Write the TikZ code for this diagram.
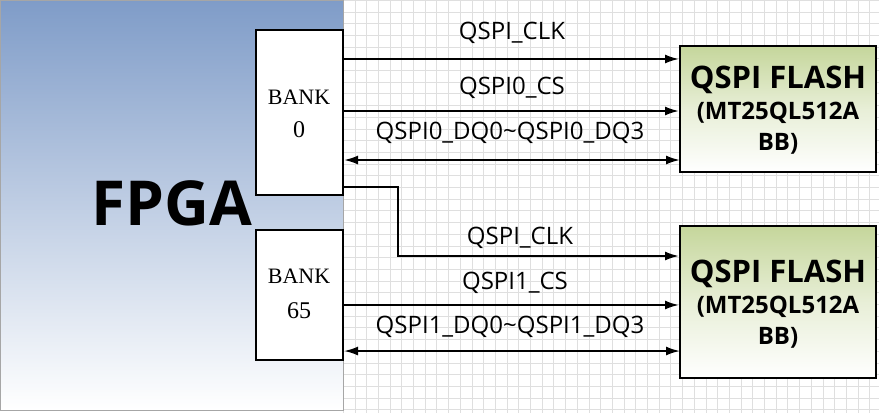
\documentclass[tikz,border=0pt]{standalone}
\usepackage{fontspec}
\setmainfont{Liberation Serif}
\newfontfamily\labelfont{Open Sans}
\newfontfamily\titlefont{Open Sans}[UprightFont=* Bold]
\usetikzlibrary{arrows.meta}
\definecolor{fpgablue}{HTML}{7F9CC8}
\definecolor{flashgreen}{HTML}{C5D69B}
\tikzset{
  bankbox/.style={draw=black, fill=white, line width=1.3pt},
  flashbox/.style={draw=black, line width=1.3pt, top color=flashgreen, bottom color=white, middle color=white!60!flashgreen},
  sig/.style={line width=2pt, -{Latex[length=14pt,width=9pt]}},
  bus/.style={line width=2pt, {Latex[length=14pt,width=9pt]}-{Latex[length=14pt,width=9pt]}},
  siglabel/.style={font=\labelfont\fontsize{24}{26}\selectfont},
  flashtext/.style={align=center, font=\titlefont\fontsize{24}{31}\selectfont}
}
\begin{document}
\begin{tikzpicture}[x=1pt,y=-1pt]
  \useasboundingbox (0,0) rectangle (879,413);
  % grid background
  \fill[white] (0,0) rectangle (879,413);
  \foreach \gx in {0,...,46}
    \draw[gray!25] (343+\gx*11.7,0) -- (343+\gx*11.7,413);
  \foreach \gy in {0,...,35}
    \draw[gray!25] (343,\gy*11.7) -- (879,\gy*11.7);

  % FPGA
  \shade[top color=fpgablue, bottom color=white] (0,0) rectangle (343,410);
  \draw[gray!70] (0,0) rectangle (343,410);
  \node[font=\titlefont\fontsize{62}{62}\selectfont] (fpga) at (172,203) {FPGA};

  % banks
  \draw[bankbox] (256,30) rectangle (343,195);
  \node[font=\fontsize{22}{22}\selectfont] (bank0a) at (299,97) {BANK};
  \node[font=\fontsize{24}{24}\selectfont] (bank0b) at (299,130) {0};
  \draw[bankbox] (256,230) rectangle (343,360);
  \node[font=\fontsize{22}{22}\selectfont] (bank65a) at (299,276) {BANK};
  \node[font=\fontsize{24}{24}\selectfont] (bank65b) at (299,311) {65};

  % flash devices
  \draw[flashbox] (680,46) rectangle (876,172);
  \node[flashtext] (flash0) at (778,110) {{\fontsize{31}{31}\selectfont QSPI FLASH}\\(MT25QL512A\\BB)};
  \draw[flashbox] (680,226) rectangle (876,378);
  \node[flashtext] (flash1) at (778,304) {{\fontsize{31}{31}\selectfont QSPI FLASH}\\(MT25QL512A\\BB)};

  % bank 0 signals
  \coordinate (clk0s) at (343,59);  \coordinate (clk0e) at (679,59);
  \coordinate (cs0s) at (343,111);  \coordinate (cs0e) at (679,111);
  \coordinate (dq0s) at (344,160);  \coordinate (dq0e) at (680,160);
  \draw[sig] (clk0s) -- (clk0e);
  \draw[sig] (cs0s) -- (cs0e);
  \draw[bus] (dq0s) -- (dq0e);
  \node[siglabel] at (512,33) {QSPI\_CLK};
  \node[siglabel] at (512,88) {QSPI0\_CS};
  \node[siglabel] at (510,133) {QSPI0\_DQ0\textasciitilde QSPI0\_DQ3};

  % bank 65 signals
  \coordinate (clk1s) at (343,187); \coordinate (clk1e) at (679,256);
  \coordinate (cs1s) at (343,305);  \coordinate (cs1e) at (679,305);
  \coordinate (dq1s) at (344,351);  \coordinate (dq1e) at (680,351);
  \draw[sig] (clk1s) -- (398,187) -- (398,256) -- (clk1e);
  \draw[sig] (cs1s) -- (cs1e);
  \draw[bus] (dq1s) -- (dq1e);
  \node[siglabel] at (520,238) {QSPI\_CLK};
  \node[siglabel] at (515,283) {QSPI1\_CS};
  \node[siglabel] at (510,327) {QSPI1\_DQ0\textasciitilde QSPI1\_DQ3};
\end{tikzpicture}
\end{document}
